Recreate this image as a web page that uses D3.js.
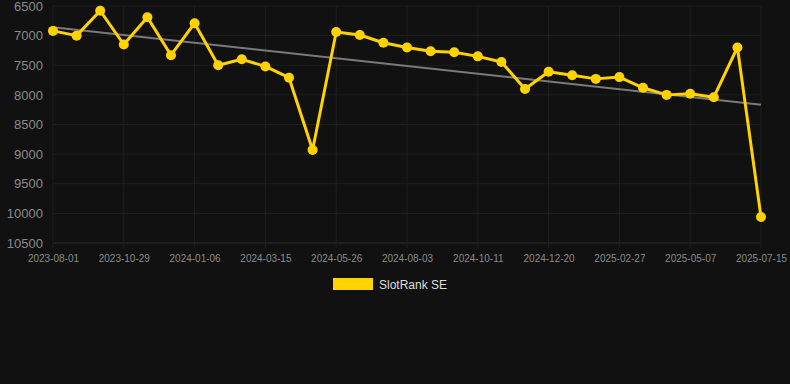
<!DOCTYPE html>
<html>
<head>
<meta charset="utf-8">
<script src="https://cdn.jsdelivr.net/npm/d3@7"></script>
<style>
  html, body { margin: 0; padding: 0; background: #111111; }
  svg { display: block; font-family: "Liberation Sans", Arial, sans-serif; }
</style>
</head>
<body>
<svg id="chart" width="790" height="384"></svg>
<script>
// dates on the x axis (category axis, every third one is labelled)
var dates = [
  "2023-08-01", "2023-08-31", "2023-09-30", "2023-10-29", "2023-11-21", "2023-12-14",
  "2024-01-06", "2024-01-29", "2024-02-21", "2024-03-15", "2024-04-08", "2024-05-02",
  "2024-05-26", "2024-06-18", "2024-07-11", "2024-08-03", "2024-08-26", "2024-09-18",
  "2024-10-11", "2024-11-03", "2024-11-27", "2024-12-20", "2025-01-12", "2025-02-04",
  "2025-02-27", "2025-03-22", "2025-04-14", "2025-05-07", "2025-05-30", "2025-06-22",
  "2025-07-15"
];
// rank values for SlotRank SE
var ranks = [
  6920, 7000, 6580, 7150, 6690, 7330, 6790, 7500, 7400, 7520, 7710, 8930,
  6940, 6990, 7120, 7200, 7265, 7280, 7350, 7445, 7900, 7610, 7670, 7730,
  7700, 7880, 8000, 7980, 8040, 7200, 10060
];
var yTicks = [6500, 7000, 7500, 8000, 8500, 9000, 9500, 10000, 10500];
var seriesName = "SlotRank SE";

var svg = d3.select("#chart"),
    margin = {top: 6, right: 29, bottom: 141, left: 53},
    width = +svg.attr("width") - margin.left - margin.right,
    height = +svg.attr("height") - margin.top - margin.bottom;

var g = svg.append("g")
  .attr("transform", "translate(" + margin.left + "," + margin.top + ")");

var x = d3.scalePoint().domain(dates).range([0, width]);
var y = d3.scaleLinear().domain([6500, 10500]).range([0, height]);

// horizontal grid
g.append("g")
  .selectAll("line")
  .data(yTicks)
  .enter().append("line")
  .attr("x1", 0).attr("x2", width)
  .attr("y1", d => y(d)).attr("y2", d => y(d))
  .attr("stroke", d => d == 10500 ? "#2e2e2e" : "#1f1f1f")
  .attr("stroke-width", 1);

// vertical grid at labelled dates
var labelled = dates.filter((d, i) => i % 3 == 0);
g.append("g")
  .selectAll("line")
  .data(labelled)
  .enter().append("line")
  .attr("x1", d => x(d)).attr("x2", d => x(d))
  .attr("y1", 0).attr("y2", height + 5)
  .attr("stroke", "#1f1f1f")
  .attr("stroke-width", 1);

// y axis labels
var yAxis = g.append("g")
  .call(d3.axisLeft(y).tickValues(yTicks).tickSize(0).tickPadding(10).tickFormat(d3.format("d")));
yAxis.select(".domain").remove();
yAxis.selectAll("text")
  .attr("fill", "#8a8a8a")
  .style("font-size", "13px");

// x axis labels
var xAxis = g.append("g")
  .attr("transform", "translate(0," + height + ")")
  .call(d3.axisBottom(x).tickValues(labelled).tickSize(0).tickPadding(12));
xAxis.select(".domain").remove();
xAxis.selectAll("text")
  .attr("fill", "#8a8a8a")
  .style("font-size", "10px");

// trend line (least squares over the series)
var n = ranks.length;
var mx = d3.mean(ranks, (d, i) => i), my = d3.mean(ranks);
var sxy = d3.sum(ranks, (d, i) => (i - mx) * (d - my));
var sxx = d3.sum(ranks, (d, i) => (i - mx) * (i - mx));
var slope = sxy / sxx, icpt = my - slope * mx;
g.append("line")
  .attr("x1", x(dates[0])).attr("y1", y(icpt))
  .attr("x2", x(dates[n - 1])).attr("y2", y(icpt + slope * (n - 1)))
  .attr("stroke", "#7a7a7a")
  .attr("stroke-width", 2);

// the series line
var line = d3.line()
  .x((d, i) => x(dates[i]))
  .y(d => y(d));

g.append("path")
  .datum(ranks)
  .attr("d", line)
  .attr("fill", "none")
  .attr("stroke", "#ffd200")
  .attr("stroke-width", 3)
  .attr("stroke-linejoin", "round");

g.selectAll(".dot")
  .data(ranks)
  .enter().append("circle")
  .attr("class", "dot")
  .attr("cx", (d, i) => x(dates[i]))
  .attr("cy", d => y(d))
  .attr("r", 5)
  .attr("fill", "#ffd200");

// legend
var legend = svg.append("g").attr("transform", "translate(333,278)");
legend.append("rect")
  .attr("width", 40).attr("height", 12)
  .attr("fill", "#ffd200");
legend.append("text")
  .attr("x", 46).attr("y", 10.5)
  .attr("fill", "#dddddd")
  .style("font-size", "12px")
  .text(seriesName);
</script>
</body>
</html>
